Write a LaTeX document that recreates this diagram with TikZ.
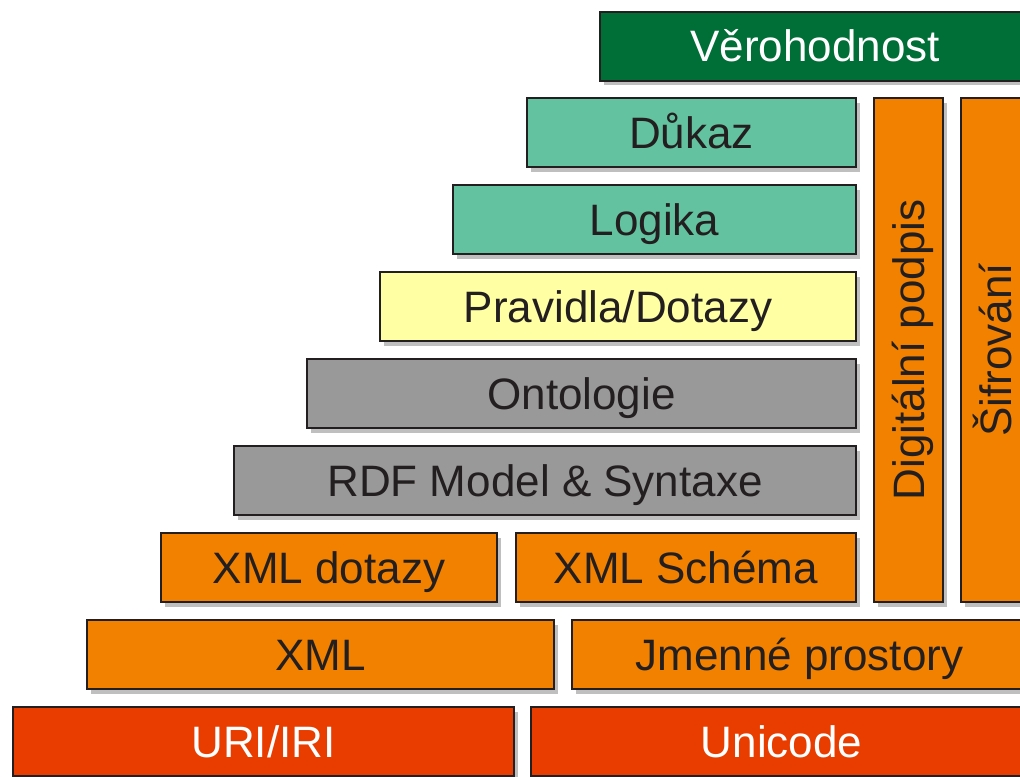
\documentclass[tikz,border=0pt]{standalone}
\usepackage{fontspec}
\setmainfont{Liberation Sans}
\usetikzlibrary{shadows}
\definecolor{edge}{HTML}{231F20}
\definecolor{trustgreen}{HTML}{006F37}
\definecolor{logicteal}{HTML}{63C3A1}
\definecolor{ruleyellow}{HTML}{FFFFA3}
\definecolor{rdfgray}{HTML}{999999}
\definecolor{xmlorange}{HTML}{F28100}
\definecolor{basered}{HTML}{E93D00}
\tikzset{
	caps/.style={inner sep=0pt, text height=23.6pt, text depth=0pt,
		text=edge, font=\fontsize{33}{36}\selectfont},
	layer/.style 2 args={draw=edge, line width=1.5pt, caps,
		minimum width=(#1-2)*0.75pt, minimum height=(#2-2)*0.75pt,
		drop shadow={shadow xshift=3pt, shadow yshift=-3.5pt, fill=black, opacity=0.25}},
}
\begin{document}
\begin{tikzpicture}[x=0.75pt,y=-0.75pt]
		\useasboundingbox (0,0) rectangle (1020,776);
		% vertical layers
		\node[layer={71}{506}, fill=xmlorange,
			label={[caps,rotate=90]center:Digitální podpis}] (sig) at (908.5,350) {};
		\node[layer={71}{506}, fill=xmlorange,
			label={[caps,rotate=90]center:Šifrování}] (crypt) at (995.5,350) {};
		% stack
		\node[layer={432}{71}, fill=trustgreen, text=white] (trust) at (815,46) {Věrohodnost};
		\node[layer={331}{71}, fill=logicteal] (proof) at (691.5,132.5) {Důkaz};
		\node[layer={405}{71}, fill=logicteal] (logic) at (654.5,219.5) {Logika};
		\node[layer={478}{71}, fill=ruleyellow] (rules) at (618,306.5) {Pravidla/Dotazy};
		\node[layer={551}{71}, fill=rdfgray] (onto) at (581.5,393.5) {Ontologie};
		\node[layer={624}{71}, fill=rdfgray] (rdf) at (545,480.5) {RDF Model \& Syntaxe};
		\node[layer={338}{71}, fill=xmlorange] (xmlq) at (329,567.5) {XML dotazy};
		\node[layer={342}{71}, fill=xmlorange] (xsd) at (686,567.5) {XML Schéma};
		\node[layer={469}{71}, fill=xmlorange] (xml) at (320.5,654.5) {XML};
		\node[layer={457}{71}, fill=xmlorange] (ns) at (799.5,654.5) {Jmenné prostory};
		\node[layer={503}{71}, fill=basered, text=white] (uri) at (263.5,741.5) {URI/IRI};
		\node[layer={503}{71}, fill=basered, text=white] (uni) at (781.5,741.5) {Unicode};
	\end{tikzpicture}
\end{document}
